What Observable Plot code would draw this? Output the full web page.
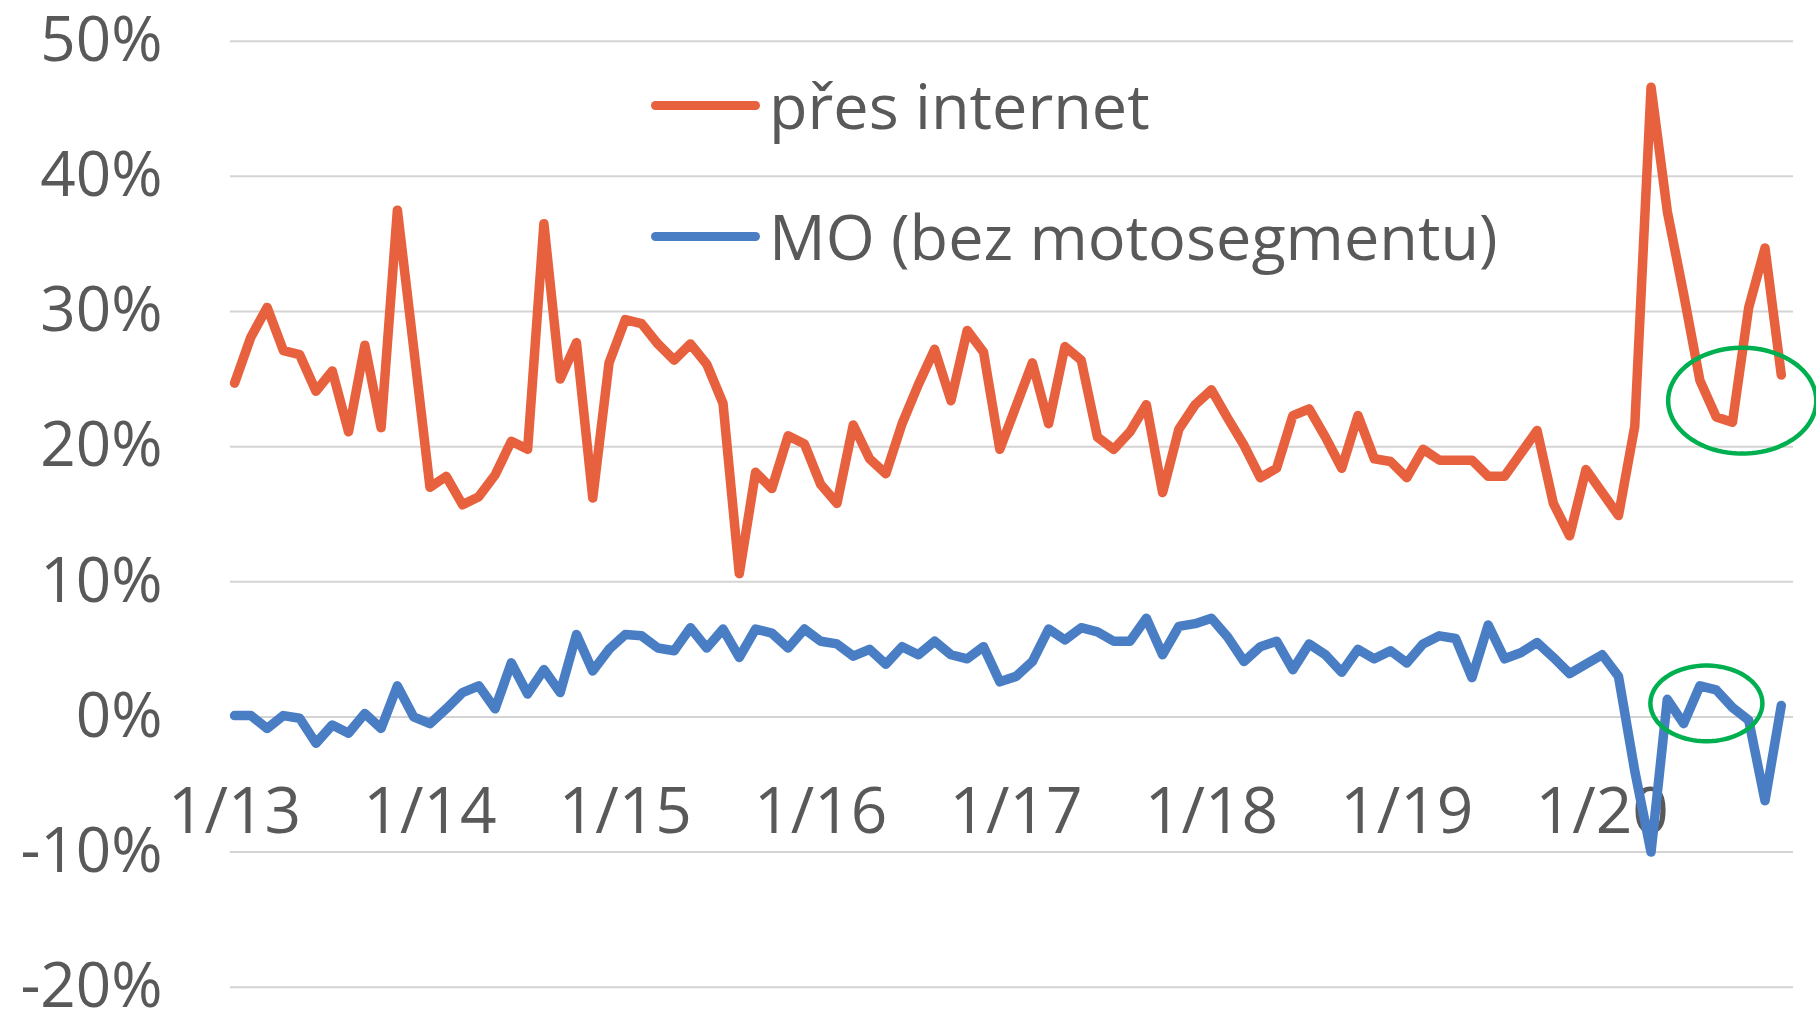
<!DOCTYPE html>
<html><head><meta charset="utf-8">
<script src="https://cdn.jsdelivr.net/npm/d3@7"></script>
<script src="https://cdn.jsdelivr.net/npm/@observablehq/plot@0.6"></script>
<style>
body{margin:0;background:#fff;}
#wrap{position:relative;width:1816px;height:1013px;overflow:hidden;background:#fff;}
.legend{position:absolute;left:651px;height:80px;line-height:80px;font-family:"Open Sans",sans-serif;font-size:63px;color:#595959;display:flex;align-items:center;white-space:nowrap;}
.legend .sw{display:inline-block;width:109px;height:9px;border-radius:5px;margin-right:9px;}
</style></head>
<body><div id="wrap"></div>
<script>
// categories: month index 0 = 1/13 ... 95 = 12/20
const monthIndex = d3.range(96);
const xTickIdx = [0, 12, 24, 36, 48, 60, 72, 84];
const xTickLabels = ["1/13", "1/14", "1/15", "1/16", "1/17", "1/18", "1/19", "1/20"];
const yTicks = [-20, -10, 0, 10, 20, 30, 40, 50];
const seriesNames = ["přes internet", "MO (bez motosegmentu)"];
const seriesColors = ["#E8613E", "#4A7EC4"];

const internet = [
  24.7, 28.1, 30.3, 27.1, 26.8, 24.1, 25.6, 21.1, 27.5, 21.4, 37.5, 27.3,
  17.0, 17.8, 15.7, 16.3, 17.9, 20.4, 19.8, 36.5, 25.0, 27.7, 16.2, 26.2,
  29.4, 29.1, 27.6, 26.4, 27.6, 26.1, 23.2, 10.6, 18.1, 16.9, 20.8, 20.2,
  17.2, 15.8, 21.6, 19.1, 18.0, 21.7, 24.6, 27.2, 23.4, 28.6, 27.0, 19.8,
  23.0, 26.2, 21.7, 27.4, 26.4, 20.7, 19.8, 21.1, 23.1, 16.6, 21.3, 23.1,
  24.2, 22.1, 20.1, 17.7, 18.4, 22.3, 22.8, 20.7, 18.4, 22.3, 19.1, 18.9,
  17.7, 19.8, 19.0, 19.0, 19.0, 17.8, 17.8, 19.5, 21.2, 15.8, 13.4, 18.3,
  16.6, 14.9, 21.5, 46.6, 37.4, 31.3, 24.9, 22.2, 21.8, 30.3, 34.7, 25.3
];
const mo = [
  0.1, 0.1, -0.85, 0.1, -0.1, -1.95, -0.6, -1.2, 0.25, -0.85, 2.3, 0.0,
  -0.5, 0.6, 1.8, 2.3, 0.6, 4.0, 1.7, 3.5, 1.8, 6.1, 3.4, 5.0,
  6.1, 6.0, 5.1, 4.9, 6.6, 5.1, 6.5, 4.4, 6.5, 6.2, 5.1, 6.5,
  5.6, 5.4, 4.5, 5.0, 3.9, 5.2, 4.6, 5.6, 4.6, 4.3, 5.2, 2.6,
  3.0, 4.1, 6.5, 5.7, 6.6, 6.3, 5.6, 5.6, 7.3, 4.6, 6.7, 6.9,
  7.3, 5.9, 4.1, 5.2, 5.6, 3.5, 5.4, 4.6, 3.3, 5.0, 4.3, 4.9,
  4.0, 5.4, 6.0, 5.8, 2.9, 6.8, 4.3, 4.75, 5.5, 4.4, 3.2, 3.9,
  4.6, 3.0, -4.0, -10.0, 1.3, -0.5, 2.3, 2.0, 0.7, -0.25, -6.2, 0.85
];

// green highlight ellipses (annotation), centre & radii in data units
const hlCx = [92.6, 90.4];
const hlCy = [23.4, 1.0];
const hlRx = [4.55, 3.44];
const hlRy = [3.92, 2.8];
const hlColor = "#00B050";

const ellipsePts = [];
hlCx.forEach((cx, k) => {
  for (let a = 0; a <= 360; a += 4) {
    const t = a * Math.PI / 180;
    ellipsePts.push({k, x: cx + hlRx[k] * Math.cos(t), y: hlCy[k] + hlRy[k] * Math.sin(t)});
  }
});

const chart = Plot.plot({
  width: 1816, height: 1013,
  marginLeft: 230, marginRight: 23, marginTop: 40.7, marginBottom: 26.3,
  x: {domain: [-0.25, 95.75], axis: null},
  y: {domain: [-20, 50], axis: null},
  style: {fontFamily: "'Open Sans', sans-serif", color: "#595959", background: "white", overflow: "visible"},
  marks: [
    Plot.gridY(yTicks, {stroke: "#d4d4d4", strokeOpacity: 1, strokeWidth: 2}),
    Plot.axisY(yTicks, {label: null, tickSize: 0, tickPadding: 68, fontSize: 62, fontFamily: "Open Sans", tickFormat: d => d + "%", fill: "#595959"}),
    Plot.text(xTickLabels, {x: (d, i) => xTickIdx[i], y: () => 0, dy: 96, text: d => d, fontSize: 64, fontFamily: "Open Sans", fill: "#595959", textAnchor: "middle"}),
    Plot.lineY(internet, {x: (d, i) => monthIndex[i], y: d => d, stroke: seriesColors[0], strokeWidth: 9.5, strokeLinejoin: "round", strokeLinecap: "round"}),
    Plot.lineY(mo, {x: (d, i) => monthIndex[i], y: d => d, stroke: seriesColors[1], strokeWidth: 9.5, strokeLinejoin: "round", strokeLinecap: "round"}),
    Plot.line(ellipsePts, {x: "x", y: "y", z: "k", stroke: hlColor, strokeWidth: 4.5})
  ]
});
const wrap = document.getElementById("wrap");
wrap.appendChild(chart);

const legendTops = [65, 196];
seriesNames.forEach((name, i) => {
  const row = document.createElement("div");
  row.className = "legend";
  row.style.top = legendTops[i] + "px";
  const sw = document.createElement("span");
  sw.className = "sw";
  sw.style.background = seriesColors[i];
  row.appendChild(sw);
  const t = document.createElement("span");
  t.textContent = name;
  row.appendChild(t);
  wrap.appendChild(row);
});
</script>
</body></html>
